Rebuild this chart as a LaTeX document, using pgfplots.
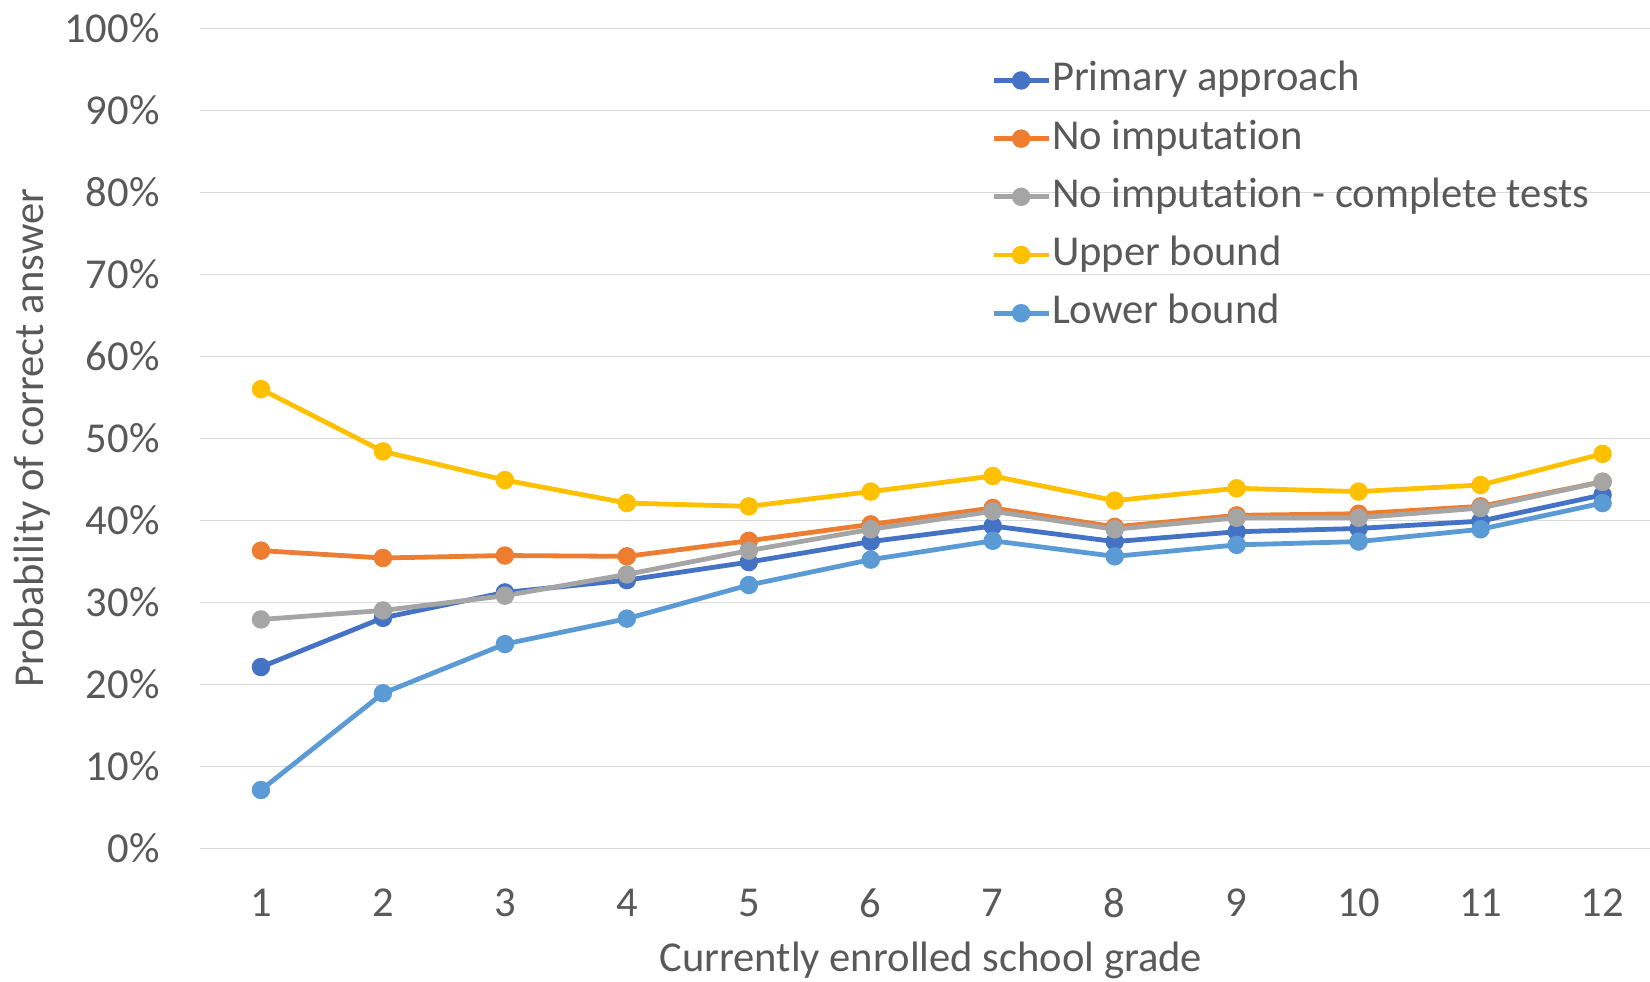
\documentclass[border=0pt]{standalone}
\usepackage{pgfplots}
\pgfplotsset{compat=1.18}
\usepackage{fontspec}
\setmainfont{Carlito}[Ligatures=NoCommon]

\definecolor{cBlue}{HTML}{4472C4}
\definecolor{cOrange}{HTML}{ED7D31}
\definecolor{cGray}{HTML}{A5A5A5}
\definecolor{cGold}{HTML}{FFC000}
\definecolor{cLight}{HTML}{5B9BD5}
\definecolor{txt}{HTML}{595959}
\definecolor{grid}{HTML}{D9D9D9}

\begin{document}
\begin{tikzpicture}
\useasboundingbox (0,0) rectangle (825pt,490.5pt);
\begin{axis}[
  at={(100pt,66.4pt)}, anchor=south west,
  scale only axis,
  width=725pt, height=409.9pt,
  xmin=0.5, xmax=12.389,
  ymin=0, ymax=100,
  axis line style={draw=none},
  major tick length=0pt,
  ymajorgrids,
  grid style={draw=grid, line width=0.7pt},
  xtick={1,2,3,4,5,6,7,8,9,10,11,12},
  xticklabels={1,2,3,4,5,6,7,8,9,10,11,12},
  ytick={0,10,20,30,40,50,60,70,80,90,100},
  yticklabels={0\%,10\%,20\%,30\%,40\%,50\%,60\%,70\%,80\%,90\%,100\%},
  /pgf/number format/assume math mode=true,
  tick label style={font=\fontsize{21.3}{25}\selectfont, text=txt},
  xticklabel style={anchor=center, inner sep=0pt, yshift=-27.4pt},
  yticklabel style={anchor=east, inner sep=0pt, xshift=-20pt},
  label style={font=\fontsize{21.3}{25}\selectfont, text=txt},
  xlabel={Currently enrolled school grade},
  xlabel style={at={(axis description cs:0.504,-0.1364)}, anchor=center},
  ylabel={Probability of correct answer},
  ylabel style={at={(axis description cs:-0.1161,0.5)}, anchor=center, rotate=0},
  every axis plot/.append style={line width=2.4pt, mark=*, mark size=3.4pt, mark options={solid}},
  legend cell align=left,
  legend style={at={(axis description cs:0.5454,0.9608)}, anchor=north west,
    draw=none, fill=none, inner sep=0pt,
    font=\fontsize{21.3}{25}\selectfont, text=txt,
    nodes={inner xsep=0.5pt, inner ysep=0pt, text height=15pt, text depth=4.5pt},
    row sep=9.6pt},
  legend image code/.code={%
    \draw[mark repeat=2, mark phase=2, #1] plot coordinates {(0pt,0pt) (13.75pt,0pt) (27.5pt,0pt)};},
]
\addplot[color=cBlue] coordinates {(1,22.1) (2,28.1) (3,31.2) (4,32.7) (5,34.9) (6,37.4) (7,39.3) (8,37.4) (9,38.6) (10,39.0) (11,39.9) (12,43.1)};
\addlegendentry{Primary approach}
\addplot[color=cOrange] coordinates {(1,36.3) (2,35.4) (3,35.7) (4,35.6) (5,37.5) (6,39.5) (7,41.5) (8,39.2) (9,40.6) (10,40.8) (11,41.7) (12,44.7)};
\addlegendentry{No imputation}
\addplot[color=cGray] coordinates {(1,27.9) (2,29.0) (3,30.8) (4,33.4) (5,36.3) (6,38.9) (7,41.1) (8,38.9) (9,40.3) (10,40.3) (11,41.5) (12,44.7)};
\addlegendentry{No imputation - complete tests}
\addplot[color=cGold] coordinates {(1,56.0) (2,48.4) (3,44.9) (4,42.1) (5,41.7) (6,43.5) (7,45.4) (8,42.4) (9,43.9) (10,43.5) (11,44.3) (12,48.1)};
\addlegendentry{Upper bound}
\addplot[color=cLight] coordinates {(1,7.1) (2,18.9) (3,24.9) (4,28.0) (5,32.1) (6,35.2) (7,37.5) (8,35.6) (9,37.0) (10,37.4) (11,38.9) (12,42.1)};
\addlegendentry{Lower bound}
\end{axis}
\end{tikzpicture}
\end{document}
